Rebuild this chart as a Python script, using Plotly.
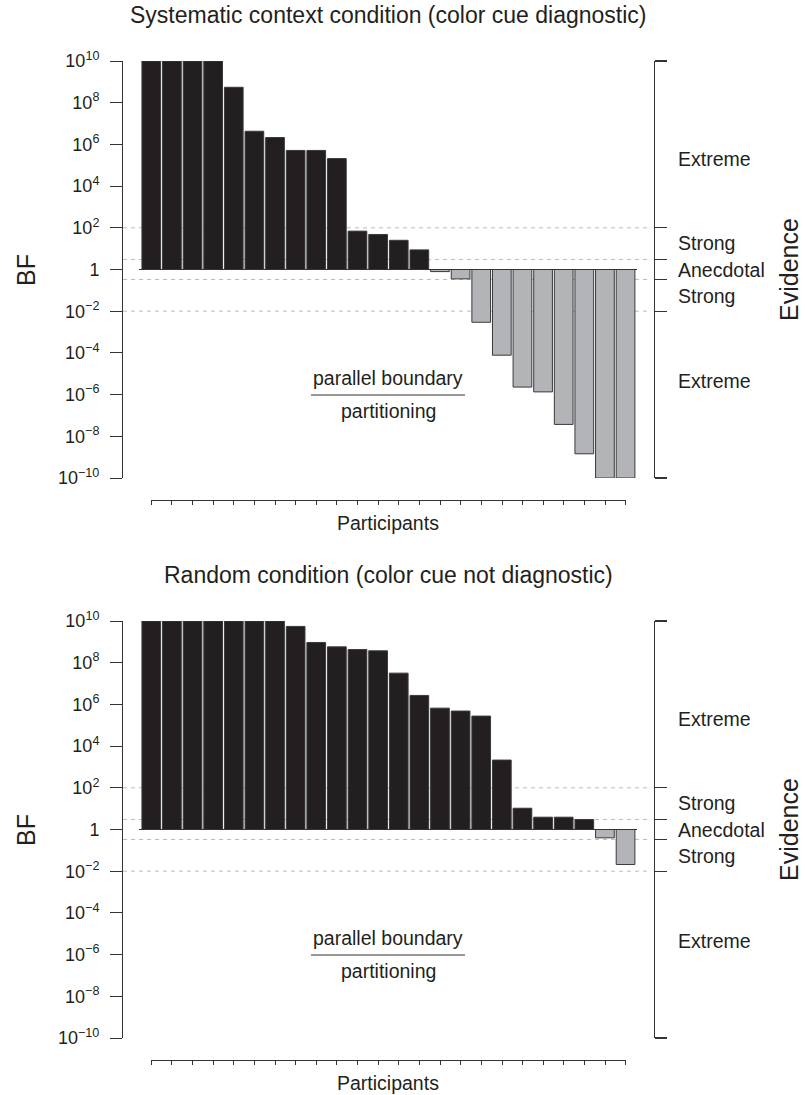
import math
import plotly.graph_objects as go

# ---------------- data ----------------
participants = list(range(1, 25))
# log10(BF) per participant
systematic_log10_bf = [10, 10, 10, 10, 8.74, 6.63, 6.33, 5.71, 5.71, 5.32, 1.84, 1.68,
                       1.40, 0.94, -0.10, -0.45, -2.53, -4.11, -5.64, -5.87, -7.43, -8.84, -10, -10]
random_log10_bf = [10, 10, 10, 10, 10, 10, 10, 9.74, 8.97, 8.76, 8.63, 8.57,
                   7.50, 6.43, 5.82, 5.68, 5.44, 3.33, 1.02, 0.59, 0.59, 0.48, -0.40, -1.68]
panel_titles = ["Systematic context condition (color cue diagnostic)",
                "Random condition (color cue not diagnostic)"]
tick_exponents = [10, 8, 6, 4, 2, 0, -2, -4, -6, -8, -10]
tick_labels = ["1" if e == 0 else "10<sup>%s</sup>" % (str(e).replace("-", "\u2212")) for e in tick_exponents]
evidence_thresholds = [100, 3, 1 / 3, 1 / 100]
bracket_ticks = [1e10, 100, 3, 1 / 3, 1 / 100, 1e-10]
evidence_labels = ["Extreme", "Strong", "Anecdotal", "Strong", "Extreme"]
evidence_label_pos = [5.32, 1.25, 0.0, -1.29, -5.37]  # log10 positions of labels

# ---------------- style ----------------
W, H = 807, 1095
FONT = "Liberation Sans, Arial, Helvetica, sans-serif"
TXT = "#231f20"
DARK = "#231f20"
GRAY = "#b3b4b7"
EDGE = "#3a3a3a"

def px(x):
    return x / W

def py(y):
    return 1 - y / H

fig = go.Figure()
layout = dict(
    template="none",
    width=W, height=H, margin=dict(l=0, r=0, t=0, b=0, pad=0, autoexpand=False),
    paper_bgcolor="white", plot_bgcolor="rgba(0,0,0,0)",
    showlegend=False, bargap=0.093,
    font=dict(family=FONT, color=TXT, size=17),
    annotations=[], shapes=[],
)

panels = [systematic_log10_bf, random_log10_bf]
for k, vals in enumerate(panels):
    off = 560 * k
    xa = "x" if k == 0 else "x2"
    ya = "y" if k == 0 else "y2"
    xt = "x3" if k == 0 else "x4"
    yb = "y3" if k == 0 else "y4"
    xa_key = "xaxis" if k == 0 else "xaxis2"
    ya_key = "yaxis" if k == 0 else "yaxis2"
    xt_key = "xaxis3" if k == 0 else "xaxis4"
    yb_key = "yaxis3" if k == 0 else "yaxis4"

    colors = [DARK if v > 0 else GRAY for v in vals]
    fig.add_trace(go.Bar(x=participants, y=vals, marker=dict(color=colors, line=dict(color=EDGE, width=1)),
                         xaxis=xa, yaxis=ya, hoverinfo="skip"))
    # invisible traces to instantiate helper axes
    fig.add_trace(go.Scatter(x=participants, y=[0] * len(participants), mode="markers",
                             marker=dict(opacity=0), xaxis=xt, yaxis=ya, hoverinfo="skip"))
    fig.add_trace(go.Scatter(x=[1], y=[0], mode="markers", marker=dict(opacity=0),
                             xaxis=xa, yaxis=yb, hoverinfo="skip"))

    ydom = [py(478 + off), py(61 + off)]
    layout[xa_key] = dict(domain=[px(123), px(654)], range=[-0.372, 25.38], visible=False,
                          anchor=ya, fixedrange=True, automargin=False)
    layout[ya_key] = dict(domain=ydom, range=[-10, 10], anchor=xa, showgrid=False, zeroline=False,
                          showline=True, linecolor="#333", linewidth=1, ticks="outside", ticklen=12,
                          tickcolor="#333", tickwidth=1, tickvals=tick_exponents, ticktext=tick_labels,
                          ticklabelstandoff=7, automargin=False,
                          tickfont=dict(size=18, color=TXT, family=FONT))
    layout[xt_key] = dict(domain=[px(151.3), px(625.8)], range=[1, 24], anchor="free",
                          position=py(499.5 + off), showgrid=False, zeroline=False, showline=True,
                          linecolor="#333", linewidth=1, ticks="outside", ticklen=4, tickcolor="#333",
                          tickvals=participants, showticklabels=False, automargin=False)
    layout[yb_key] = dict(domain=ydom, range=[-10, 10], overlaying=ya, side="right", anchor="free",
                          position=px(654), showgrid=False, zeroline=False, showline=True,
                          linecolor="#333", linewidth=1.3, ticks="outside", ticklen=12, tickcolor="#333",
                          tickwidth=1.3, tickvals=[math.log10(t) for t in bracket_ticks],
                          showticklabels=False, automargin=False)

    # threshold dashed lines
    for t in evidence_thresholds:
        layout["shapes"].append(dict(type="line", xref=xa + " domain", yref=ya, x0=0, x1=0.992,
                                     y0=math.log10(t), y1=math.log10(t),
                                     line=dict(color="#bdbdbd", width=1, dash="4px,4px"), layer="below"))
    # baseline at BF = 1
    layout["shapes"].append(dict(type="line", xref="paper", yref=ya, x0=px(139), x1=px(637), y0=0, y1=0,
                                 line=dict(color="#333", width=1)))
    # fraction line for the annotation
    layout["shapes"].append(dict(type="line", xref="paper", yref="paper", x0=px(311), x1=px(465),
                                 y0=py(395 + off), y1=py(395 + off), line=dict(color="#333", width=1)))

    ann = layout["annotations"]
    ann.append(dict(text=panel_titles[k], x=px(388), y=py(15 + off), xref="paper", yref="paper",
                    showarrow=False, font=dict(size=23, family=FONT, color=TXT), xanchor="center", yanchor="middle"))
    ann.append(dict(text="BF", x=px(26), y=py(270 + off), xref="paper", yref="paper", textangle=-90,
                    showarrow=False, font=dict(size=25, family=FONT, color=TXT), xanchor="center", yanchor="middle"))
    ann.append(dict(text="Evidence", x=px(789), y=py(270 + off), xref="paper", yref="paper", textangle=-90,
                    showarrow=False, font=dict(size=25, family=FONT, color=TXT), xanchor="center", yanchor="middle"))
    ann.append(dict(text="Participants", x=px(388), y=py(523 + off), xref="paper", yref="paper",
                    showarrow=False, font=dict(size=19.5, family=FONT, color=TXT), xanchor="center", yanchor="middle"))
    ann.append(dict(text="parallel boundary", x=px(388), y=py(378 + off), xref="paper", yref="paper",
                    showarrow=False, font=dict(size=19.5, family=FONT, color=TXT), xanchor="center", yanchor="middle"))
    ann.append(dict(text="partitioning", x=px(388), y=py(411 + off), xref="paper", yref="paper",
                    showarrow=False, font=dict(size=19.5, family=FONT, color=TXT), xanchor="center", yanchor="middle"))
    for lab, pos in zip(evidence_labels, evidence_label_pos):
        ann.append(dict(text=lab, x=px(676), y=pos, xref="paper", yref=ya, showarrow=False,
                        font=dict(size=19.5, family=FONT, color=TXT), xanchor="left", yanchor="middle"))

fig.update_layout(**layout)
# remove the browser's default 8px body margin so the figure sits at the page origin
fig.write_html("out.html", config={"displayModeBar": False, "staticPlot": True},
               post_script="document.body.style.margin='0px';document.body.style.overflow='hidden';")
